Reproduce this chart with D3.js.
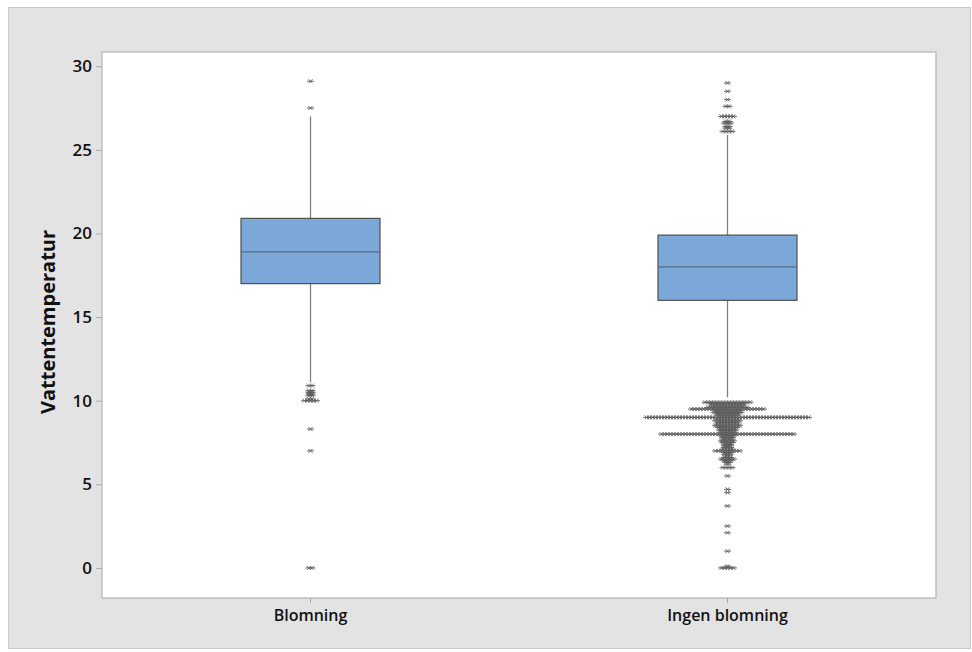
<!DOCTYPE html>
<html>
<head>
<meta charset="utf-8">
<script src="https://cdn.jsdelivr.net/npm/d3@7"></script>
<style>
  html, body { margin: 0; padding: 0; background: #ffffff; }
  svg { display: block; }
  text { font-family: "Open Sans", "Noto Sans", sans-serif; }
</style>
</head>
<body>
<svg id="chart" width="972" height="652"></svg>
<script>
// ---- data ----
const categories = ["Blomning", "Ingen blomning"];
const q1Values = [17.0, 16.0];
const medianValues = [18.9, 18.0];
const q3Values = [20.9, 19.9];
const whiskerLow = [11.1, 10.2];
const whiskerHigh = [27.0, 25.9];
const yTicks = [0, 5, 10, 15, 20, 25, 30];
const yLabel = "Vattentemperatur";

// outliers: [value, count]
const outliersBlomning = [
  [29.1, 1], [27.5, 1], [10.9, 2], [10.6, 2], [10.5, 2], [10.4, 2], [10.3, 2],
  [10.1, 2], [10.0, 5], [8.3, 1], [7.0, 1], [0.0, 2]
];
const outliersIngen = [
  [29.0, 1], [28.5, 1], [28.0, 1], [27.6, 2], [27.0, 5], [26.7, 2], [26.6, 3],
  [26.4, 2], [26.3, 2], [26.1, 4],
  [9.9, 16], [9.8, 12], [9.7, 11], [9.6, 14], [9.5, 25], [9.4, 9], [9.3, 10],
  [9.2, 8], [9.1, 7], [9.0, 55], [8.9, 8], [8.8, 9], [8.7, 7], [8.6, 8],
  [8.5, 9], [8.4, 7], [8.3, 6], [8.2, 6], [8.1, 5], [8.0, 45], [7.9, 5],
  [7.8, 4], [7.7, 4], [7.6, 5], [7.5, 4], [7.4, 3], [7.3, 3], [7.2, 3],
  [7.1, 4], [7.0, 9], [6.9, 3], [6.8, 3], [6.7, 2], [6.6, 3], [6.5, 5],
  [6.4, 3], [6.3, 2], [6.2, 1], [6.0, 4], [5.5, 1], [4.7, 1], [4.5, 1],
  [3.7, 1], [2.5, 1], [2.1, 1], [1.0, 1], [0.1, 1], [0.0, 5]
];
const outlierSets = [outliersBlomning, outliersIngen];

// ---- layout ----
const W = 972, H = 652;
const plot = { left: 102, top: 52, right: 936, bottom: 598 };

const svg = d3.select("#chart");

// outer panel
svg.append("rect")
  .attr("x", 8.5).attr("y", 7.5).attr("width", W - 10).attr("height", H - 11)
  .attr("fill", "#e3e3e3").attr("stroke", "#c9c9c9").attr("stroke-width", 1);

// plot area
svg.append("rect")
  .attr("x", plot.left).attr("y", plot.top)
  .attr("width", plot.right - plot.left).attr("height", plot.bottom - plot.top)
  .attr("fill", "#ffffff").attr("stroke", "#b4b4b4").attr("stroke-width", 1.2);

const x = d3.scaleBand().domain(categories).range([plot.left, plot.right]).padding(0);
const y = d3.scaleLinear().domain([-1.8, 30.85]).range([plot.bottom, plot.top]);

// y axis
const yAxis = svg.append("g")
  .attr("transform", `translate(${plot.left},0)`)
  .call(d3.axisLeft(y).tickValues(yTicks).tickSize(6).tickPadding(4).tickFormat(d3.format("d")));
yAxis.select(".domain").remove();
yAxis.selectAll(".tick line").attr("stroke", "#a8a8a8");
yAxis.selectAll(".tick text")
  .attr("fill", "#111").attr("font-size", 17).attr("font-weight", 600)
  .style("font-family", "'Open Sans', 'Noto Sans', sans-serif");

// x axis
const xAxis = svg.append("g")
  .attr("transform", `translate(0,${plot.bottom})`)
  .call(d3.axisBottom(x).tickSize(5).tickPadding(7));
xAxis.select(".domain").remove();
xAxis.selectAll(".tick line").attr("stroke", "#a8a8a8");
xAxis.selectAll(".tick text")
  .attr("fill", "#111").attr("font-size", 16).attr("font-weight", 600)
  .style("font-family", "'Open Sans', 'Noto Sans', sans-serif");

// y label
svg.append("text")
  .attr("transform", `translate(55,${(plot.top + plot.bottom) / 2 - 3}) rotate(-90)`)
  .attr("text-anchor", "middle")
  .attr("font-size", 20).attr("font-weight", 700).attr("fill", "#111")
  .text(yLabel);

// boxes
const boxW = x.bandwidth() / 3;
categories.forEach((c, i) => {
  const cx = x(c) + x.bandwidth() / 2;
  const g = svg.append("g");
  // whiskers
  g.append("line")
    .attr("x1", cx).attr("x2", cx)
    .attr("y1", y(q3Values[i])).attr("y2", y(whiskerHigh[i]))
    .attr("stroke", "#808080").attr("stroke-width", 1.3);
  g.append("line")
    .attr("x1", cx).attr("x2", cx)
    .attr("y1", y(q1Values[i])).attr("y2", y(whiskerLow[i]))
    .attr("stroke", "#808080").attr("stroke-width", 1.3);
  // box
  g.append("rect")
    .attr("x", cx - boxW / 2).attr("width", boxW)
    .attr("y", y(q3Values[i])).attr("height", y(q1Values[i]) - y(q3Values[i]))
    .attr("fill", "#7ba7d9").attr("stroke", "#4f4f4f").attr("stroke-width", 1.2);
  // median
  g.append("line")
    .attr("x1", cx - boxW / 2).attr("x2", cx + boxW / 2)
    .attr("y1", y(medianValues[i])).attr("y2", y(medianValues[i]))
    .attr("stroke", "#5a6a80").attr("stroke-width", 1.3);

  // outliers
  const step = 3;
  const pts = [];
  outlierSets[i].forEach(([v, n]) => {
    for (let k = 0; k < n; k++) pts.push({ v, off: (k - (n - 1) / 2) * step });
  });
  const sym = "M-3.5,0H3.5M-2,-2L2,2M-2,2L2,-2";
  g.append("g").selectAll("path").data(pts).join("path")
    .attr("d", sym)
    .attr("transform", d => `translate(${cx + d.off},${y(d.v)})`)
    .attr("fill", "none").attr("stroke", "#5c5c5c").attr("stroke-width", 0.9);
});
</script>
</body>
</html>
